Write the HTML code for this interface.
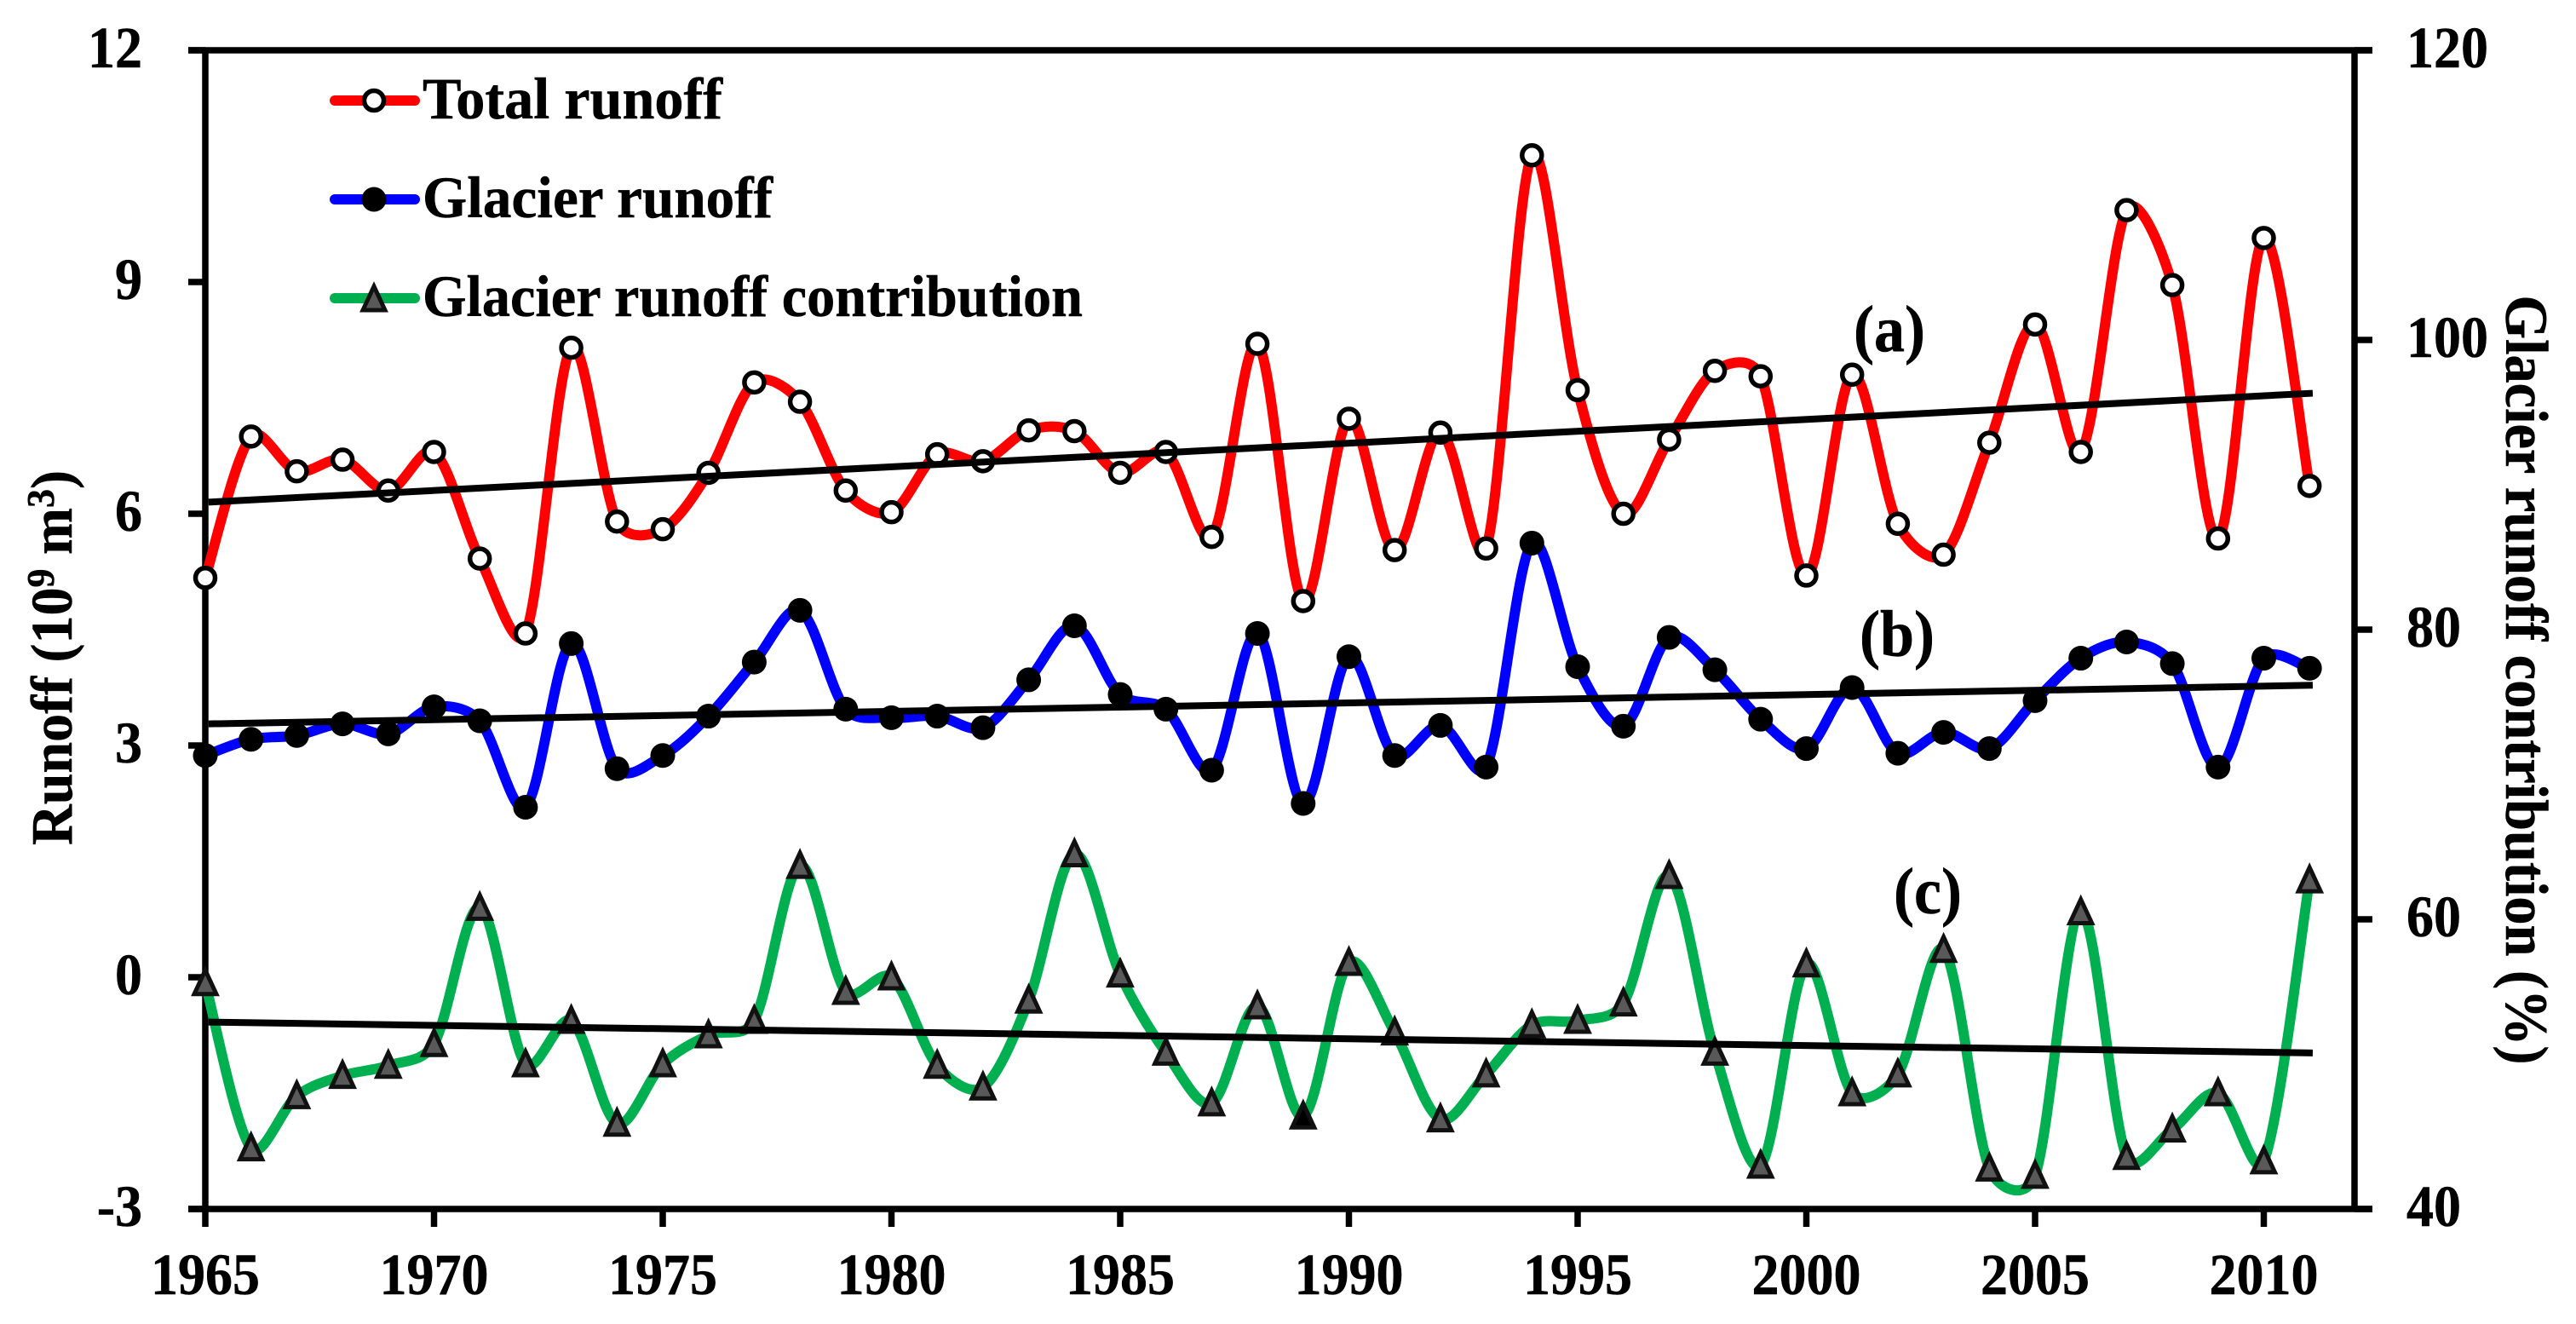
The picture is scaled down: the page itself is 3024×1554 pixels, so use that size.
<!DOCTYPE html>
<html lang="en">
<head>
<meta charset="utf-8">
<title>Runoff chart</title>
<style>
html,body{margin:0;padding:0;background:#fff;width:3024px;height:1554px;overflow:hidden}
svg{display:block}
text{font-family:"Liberation Serif",serif;font-weight:bold;fill:#000;stroke:#000;stroke-width:0.5}
</style>
</head>
<body>
<svg id="chart" xmlns="http://www.w3.org/2000/svg" width="3024" height="1554" viewBox="0 0 3024 1554">
  <g id="series-layer"></g>
  <g id="trend-layer"></g>
  <g id="axis-layer"></g>

  <text transform="translate(84,772) rotate(-90) scale(1,1.04)" text-anchor="middle" font-size="66">Runoff (10<tspan font-size="44" dy="-20">9</tspan><tspan dy="20"> m</tspan><tspan font-size="44" dy="-20">3</tspan><tspan dy="20">)</tspan></text>
  <text transform="translate(2942,798) rotate(90) scale(1,1.08)" text-anchor="middle" font-size="66" textLength="903" lengthAdjust="spacingAndGlyphs">Glacier runoff contribution (%)</text>

  <g>
    <g>
      <line x1="393" x2="487" y1="118" y2="118" stroke="#ff0000" stroke-width="12" stroke-linecap="round"></line>
      <circle cx="439" cy="118" r="11.5" fill="#fff" stroke="#000" stroke-width="5.5"></circle>
      <text transform="translate(496,139) scale(1,1.05)" font-size="66" textLength="352" lengthAdjust="spacingAndGlyphs">Total runoff</text>
    </g>
    <g>
      <line x1="393" x2="487" y1="234" y2="234" stroke="#0000ff" stroke-width="12" stroke-linecap="round"></line>
      <circle cx="439" cy="234" r="14.5" fill="#000"></circle>
      <text transform="translate(496,255) scale(1,1.05)" font-size="66" textLength="411" lengthAdjust="spacingAndGlyphs">Glacier runoff</text>
    </g>
    <g>
      <line x1="393" x2="487" y1="350" y2="350" stroke="#00b050" stroke-width="12" stroke-linecap="round"></line>
      <polygon points="439,336 452,364 426,364" fill="#595959" stroke="#111" stroke-width="5"></polygon>
      <text transform="translate(496,371) scale(1,1.05)" font-size="66" textLength="775" lengthAdjust="spacingAndGlyphs">Glacier runoff contribution</text>
    </g>
  </g>

  <text transform="translate(2218,412) scale(1,1.07)" text-anchor="middle" font-size="72">(a)</text>
  <text transform="translate(2227,770) scale(1,1.07)" text-anchor="middle" font-size="72">(b)</text>
  <text transform="translate(2263,1072) scale(1,1.07)" text-anchor="middle" font-size="72">(c)</text>
</svg>

<script>
const startYear = 1965;
const totalRunoff = [5.17,7.0,6.55,6.7,6.3,6.8,5.42,4.45,8.15,5.9,5.8,6.53,7.7,7.45,6.3,6.02,6.77,6.68,7.08,7.07,6.53,6.8,5.7,8.2,4.87,7.23,5.53,7.05,5.55,10.64,7.6,6.0,6.96,7.85,7.78,5.2,7.8,5.87,5.47,6.92,8.45,6.8,9.93,8.96,5.68,9.57,6.36];
const glacierRunoff = [2.87,3.08,3.13,3.28,3.15,3.5,3.32,2.2,4.32,2.7,2.87,3.38,4.08,4.75,3.47,3.36,3.38,3.23,3.85,4.55,3.66,3.47,2.68,4.45,2.25,4.15,2.87,3.26,2.72,5.62,4.02,3.25,4.4,3.98,3.34,2.96,3.75,2.9,3.17,2.96,3.58,4.13,4.34,4.06,2.72,4.13,4.0];
const contribution = [55.6,44.2,47.8,49.2,49.9,51.4,60.8,50,53,45.9,50,52,53,63.7,55,56,49.9,48.4,54.4,64.5,56.2,50.8,47.3,54,46.4,57,52.2,46.2,49.3,52.7,53,54.2,63,50.8,43,56.9,48,49.3,57.9,42.8,42.3,60.5,43.6,45.5,48,43.3,62.7];
const solidMarkerYears = [1989];
const trendYears = [1965.07, 2011.07];
const trendTotal = [6.15, 7.56];
const trendGlacier = [3.28, 3.78];
const trendContribution = [-0.58, -0.98];
const leftTicks = [12,9,6,3,0,-3];
const rightTicks = [120,100,80,60,40];
const yearTicks = [1965,1970,1975,1980,1985,1990,1995,2000,2005,2010];

const SVGNS = 'http://www.w3.org/2000/svg';
const xScale = year => 241 + (year - 1965) * 53.7;
const yLeft = v => 59 + (12 - v) * (1360 / 15);
const yRight = v => 59 + (120 - v) * (1360 / 80);

function make(tag, attrs, parent) {
  const el = document.createElementNS(SVGNS, tag);
  for (const k in attrs) el.setAttribute(k, attrs[k]);
  parent.appendChild(el);
  return el;
}

function dist(a, b) {
  return Math.hypot(a[0] - b[0], a[1] - b[1]);
}

function smoothPath(pts) {
  let d = 'M' + pts[0][0].toFixed(1) + ' ' + pts[0][1].toFixed(1);
  for (let i = 0; i < pts.length - 1; i++) {
    const p0 = pts[Math.max(i - 1, 0)], p1 = pts[i], p2 = pts[i + 1], p3 = pts[Math.min(i + 2, pts.length - 1)];
    const d01 = dist(p0, p1), d12 = dist(p1, p2), d23 = dist(p2, p3);
    const a = 0.6 * Math.min(d12 / ((d01 + d12) || 1), 0.5) / 3 + 0.4 / 6;
    const b = 0.6 * Math.min(d12 / ((d12 + d23) || 1), 0.5) / 3 + 0.4 / 6;
    const c1x = p1[0] + (p2[0] - p0[0]) * a, c1y = p1[1] + (p2[1] - p0[1]) * a;
    const c2x = p2[0] - (p3[0] - p1[0]) * b, c2y = p2[1] - (p3[1] - p1[1]) * b;
    d += 'C' + c1x.toFixed(1) + ' ' + c1y.toFixed(1) + ' ' + c2x.toFixed(1) + ' ' + c2y.toFixed(1) + ' ' + p2[0].toFixed(1) + ' ' + p2[1].toFixed(1);
  }
  return d;
}

const seriesLayer = document.getElementById('series-layer');
const trendLayer = document.getElementById('trend-layer');
const axisLayer = document.getElementById('axis-layer');

const axisL = 241, axisR = 2764, axisT = yLeft(12), axisB = yLeft(-3);
const frameTop = make('line', {x1: 221, x2: 2785, y1: axisT, y2: axisT, stroke: '#000', 'stroke-width': 7.5}, axisLayer);


const frameBottom = make('line', {x1: 221, x2: 2785, y1: axisB, y2: axisB, stroke: '#000', 'stroke-width': 7.5}, axisLayer);


const frameLeft = make('line', {x1: axisL, x2: axisL, y1: axisT, y2: axisB, stroke: '#000', 'stroke-width': 7.5}, axisLayer);


const frameRight = make('line', {x1: axisR, x2: axisR, y1: axisT, y2: axisB, stroke: '#000', 'stroke-width': 7.5}, axisLayer);



document.getElementById('chart').insertBefore(axisLayer, seriesLayer);

function drawSeries(values, yFn, color, kind, name) {
  const group = make('g', {}, seriesLayer);
  
  
  const pts = values.map((v, i) => [xScale(startYear + i), yFn(v)]);
  const line = make('path', {d: smoothPath(pts), fill: 'none', stroke: color, 'stroke-width': 12, 'stroke-linejoin': 'round'}, group);
  
  
  pts.forEach((p, i) => {
    const year = startYear + i;
    let m;
    if (kind === 'open') {
      m = make('circle', {cx: p[0], cy: p[1], r: 11.5, fill: '#fff', stroke: '#000', 'stroke-width': 5.5}, group);
    } else if (kind === 'solid') {
      m = make('circle', {cx: p[0], cy: p[1], r: 14.5, fill: '#000'}, group);
    } else {
      const fill = solidMarkerYears.includes(year) ? '#000' : '#595959';
      m = make('polygon', {points: p[0] + ',' + (p[1] - 15) + ' ' + (p[0] + 13) + ',' + (p[1] + 13) + ' ' + (p[0] - 13) + ',' + (p[1] + 13), fill: fill, stroke: '#111', 'stroke-width': 5}, group);
    }
    
    
  });
}

function drawTrend(values, name) {
  const t = make('line', {x1: xScale(trendYears[0]), x2: xScale(trendYears[1]), y1: yLeft(values[0]), y2: yLeft(values[1]), stroke: '#000', 'stroke-width': 8}, trendLayer);
  
  
}

drawSeries(totalRunoff, yLeft, '#ff0000', 'open', 'total-runoff');
drawSeries(glacierRunoff, yLeft, '#0000ff', 'solid', 'glacier-runoff');
drawSeries(contribution, yRight, '#00b050', 'triangle', 'glacier-runoff-contribution');
drawTrend(trendTotal, 'trend-line-a');
drawTrend(trendGlacier, 'trend-line-b');
drawTrend(trendContribution, 'trend-line-c');

leftTicks.forEach(v => {
  const y = yLeft(v);
  const tick = make('line', {x1: 221, x2: axisL, y1: y, y2: y, stroke: '#000', 'stroke-width': 7.5}, axisLayer);
  
  
  const label = make('text', {transform: 'translate(167,' + (y + 20) + ') scale(1,1.07)', 'text-anchor': 'end', 'font-size': 64}, axisLayer);
  label.textContent = String(v);
  
  
});

rightTicks.forEach(v => {
  const y = yRight(v);
  const tick = make('line', {x1: axisR, x2: 2785, y1: y, y2: y, stroke: '#000', 'stroke-width': 7.5}, axisLayer);
  
  
  const label = make('text', {transform: 'translate(2825,' + (y + 20) + ') scale(1,1.07)', 'font-size': 64}, axisLayer);
  label.textContent = String(v);
  
  
});

yearTicks.forEach(v => {
  const x = xScale(v);
  const tick = make('line', {x1: x, x2: x, y1: axisB, y2: axisB + 21, stroke: '#000', 'stroke-width': 7.5}, axisLayer);
  
  
  const label = make('text', {transform: 'translate(' + x + ',1519) scale(1,1.07)', 'text-anchor': 'middle', 'font-size': 64}, axisLayer);
  label.textContent = String(v);
  
  
});
</script>
</body>
</html>
